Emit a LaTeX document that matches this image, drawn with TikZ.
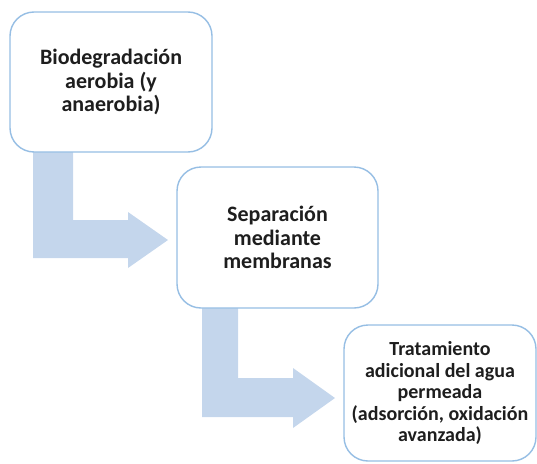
\documentclass[tikz,border=0pt]{standalone}
\usepackage{fontspec}
\setmainfont{Carlito}
\definecolor{boxline}{RGB}{150,190,228}
\definecolor{arrowfill}{RGB}{196,214,236}
\definecolor{txt}{RGB}{30,30,30}
\begin{document}
\begin{tikzpicture}[x=1pt,y=-1pt,
  stepbox/.style={draw=boxline, line width=1.4pt, fill=white, rounded corners=24pt,
    align=center, text=txt, font=\bfseries\fontsize{22}{23.5}\selectfont, inner sep=0pt},
  bentarrow/.style={fill=arrowfill, draw=none}]
\useasboundingbox (0,0) rectangle (537,463);
% arrows
\fill[bentarrow] (33,150) -- (73,150) -- (73,220) -- (128,220) -- (128,212) -- (168,240)
  -- (128,268) -- (128,258) -- (33,258) -- cycle;
\fill[bentarrow] (202,306) -- (238,306) -- (238,378) -- (293,378) -- (293,368) -- (335,398)
  -- (293,428) -- (293,417) -- (202,417) -- cycle;
% boxes
\node[stepbox, minimum width=202pt, minimum height=140pt] (b1) at (111,82)
  {Biodegradación\\aerobia (y\\anaerobia)};
\node[stepbox, minimum width=201pt, minimum height=141pt] (b2) at (277.5,237.5)
  {Separación\\mediante\\membranas};
\node[stepbox, minimum width=192pt, minimum height=136pt, font=\bfseries\fontsize{20}{21.5}\selectfont] (b3) at (440,393)
  {Tratamiento\\adicional del agua\\permeada\\(adsorción, oxidación\\avanzada)};
\end{tikzpicture}
\end{document}
